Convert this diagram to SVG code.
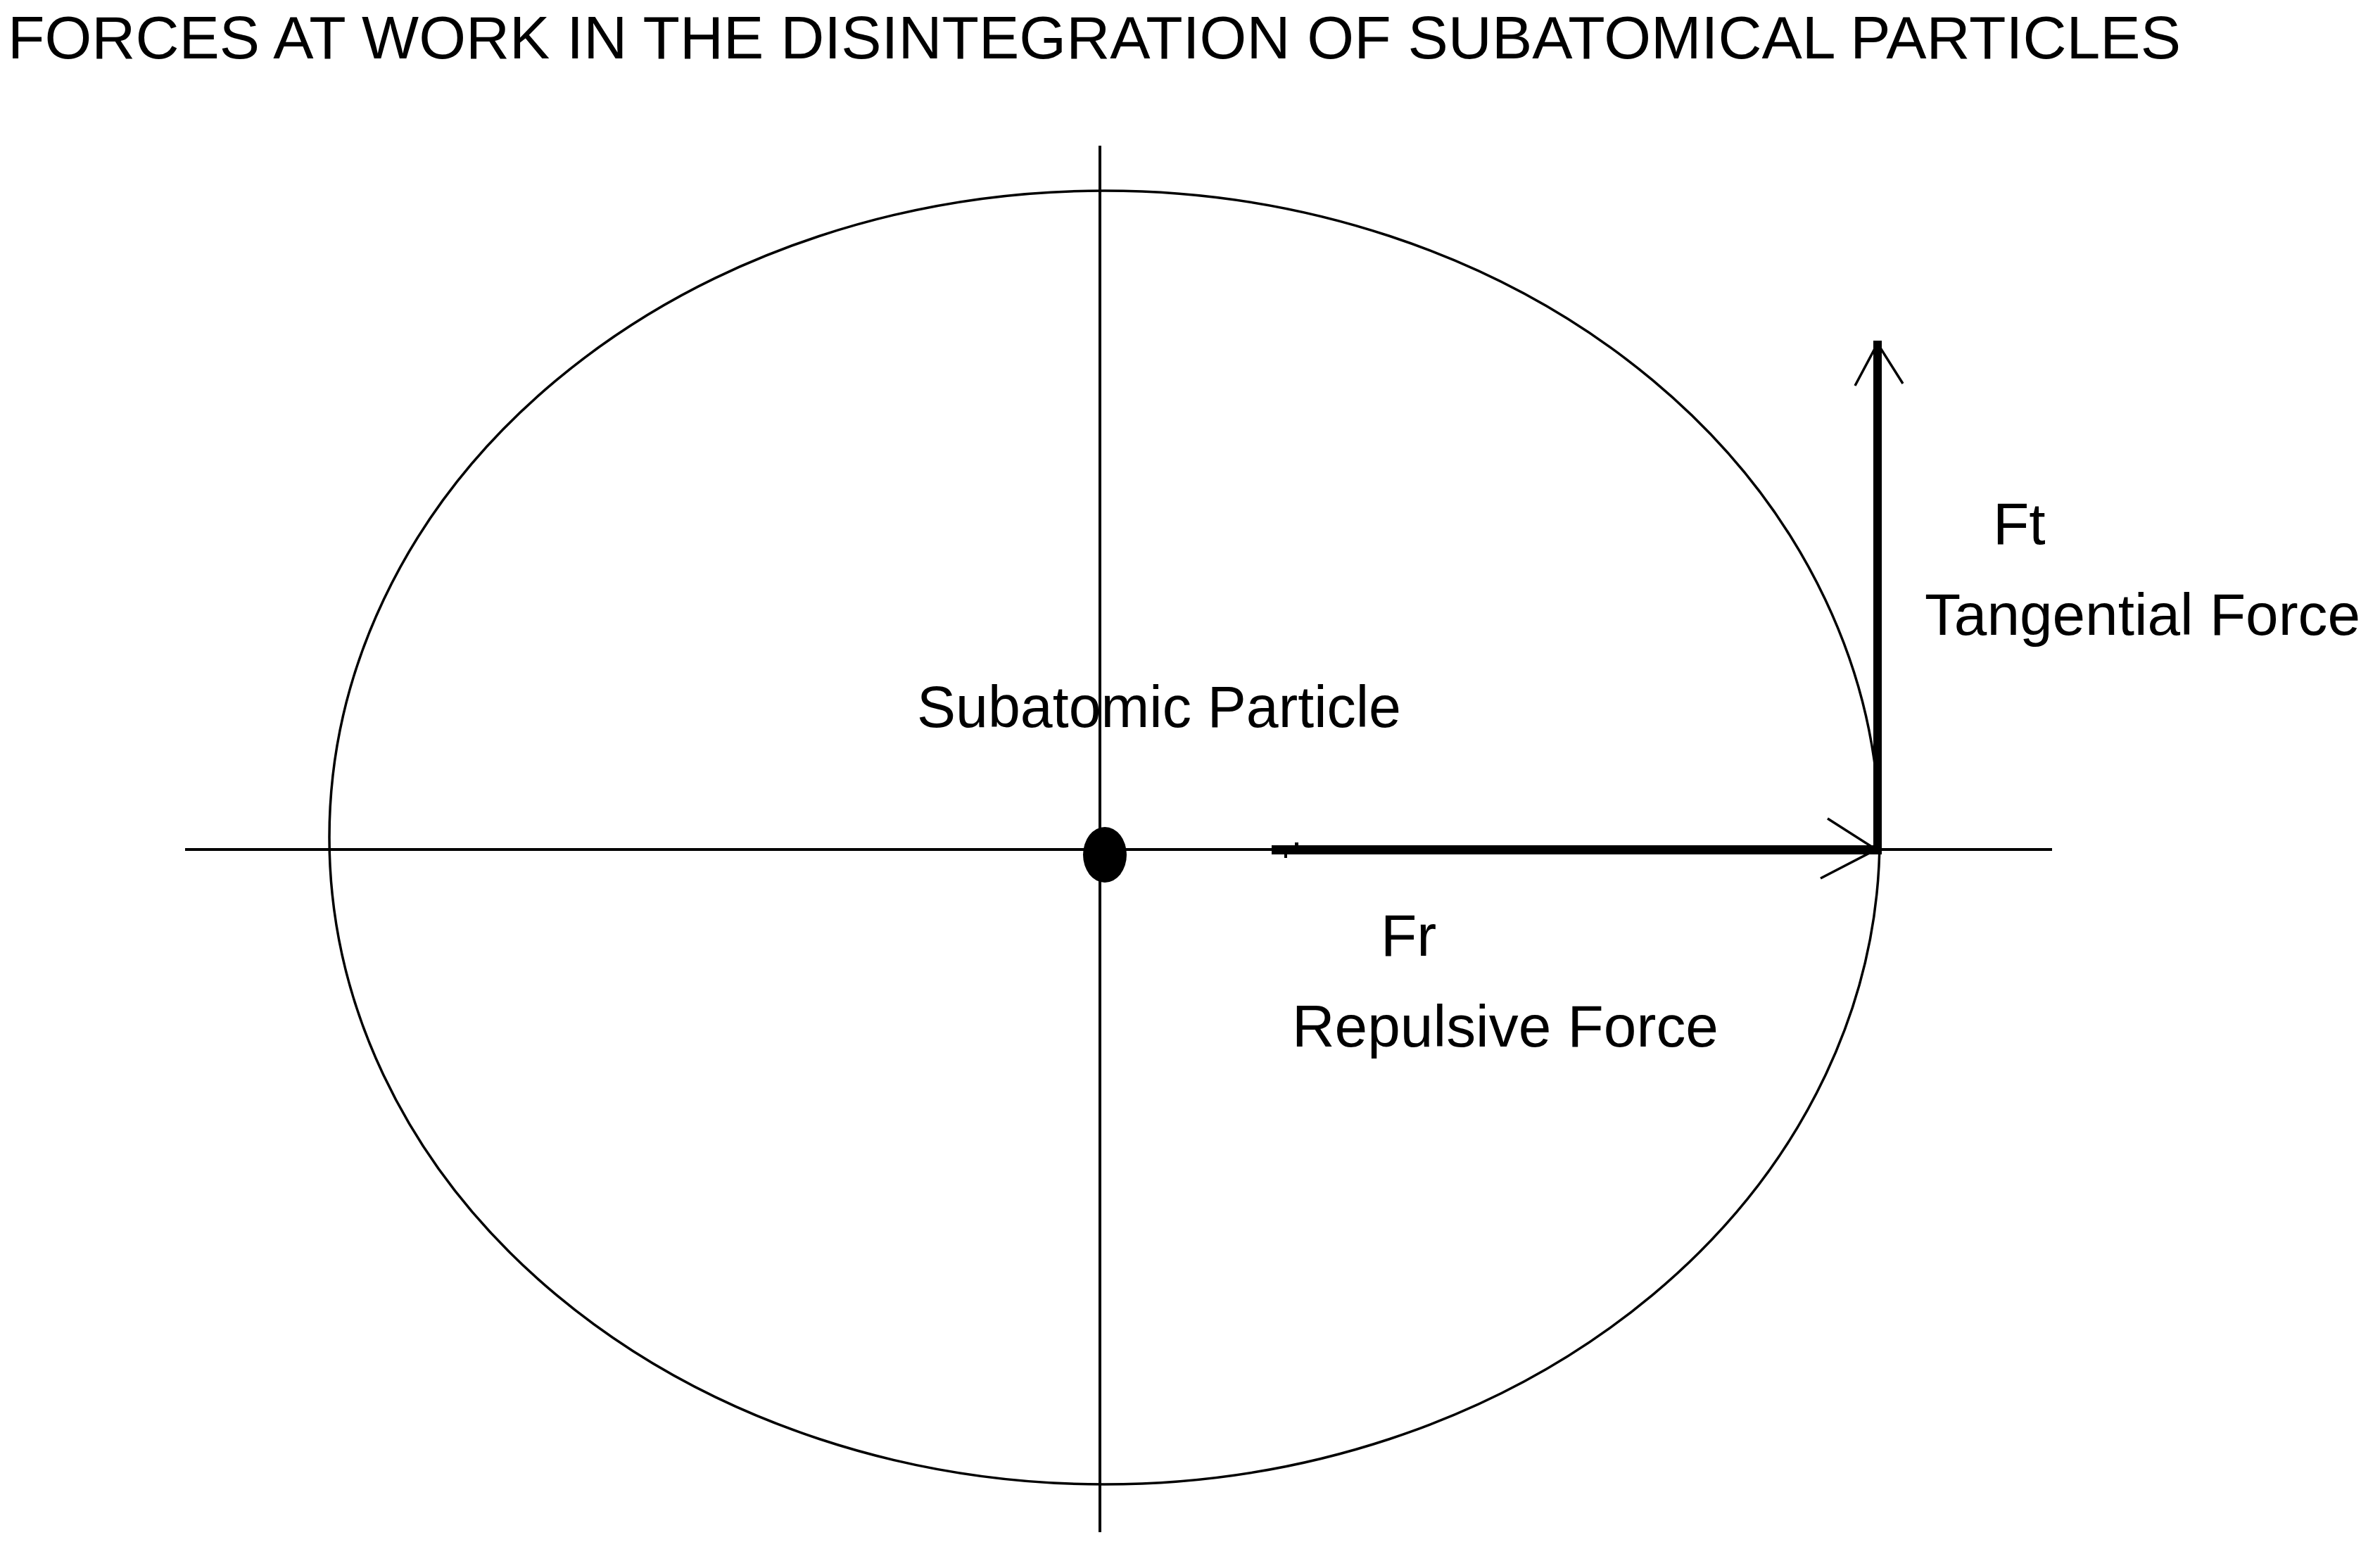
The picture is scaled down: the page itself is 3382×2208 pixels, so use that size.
<svg xmlns="http://www.w3.org/2000/svg" width="3382" height="2208" viewBox="0 0 3382 2208">
  <style>
    .lbl { font-family: "Liberation Sans", Arial, sans-serif; font-size: 84px; fill: #000; }
    .title { font-family: "Liberation Sans", Arial, sans-serif; font-size: 85px; fill: #000; }
    .axis { stroke: #000; stroke-width: 4; fill: none; }
    .orbit { stroke: #000; stroke-width: 3.5; fill: none; }
    .force { stroke: #000; fill: none; stroke-linecap: butt; }
    .head { stroke: #000; stroke-width: 3.5; fill: none; stroke-linecap: butt; stroke-linejoin: miter; }
  </style>
  <rect x="0" y="0" width="3382" height="2208" fill="#fff"/>

  <g id="title">
    <text class="title" x="11" y="83" textLength="3088" lengthAdjust="spacingAndGlyphs">FORCES AT WORK IN THE DISINTEGRATION OF SUBATOMICAL PARTICLES</text>
  </g>

  <g id="orbit">
    <ellipse class="orbit" cx="1569.5" cy="1190" rx="1101.5" ry="919"/>
  </g>

  <g id="axes">
    <line class="axis" x1="263" y1="1207" x2="2916" y2="1207"/>
    <line class="axis" x1="1563" y1="207" x2="1563" y2="2177"/>
  </g>

  <g id="particle">
    <ellipse cx="1570" cy="1214.5" rx="31" ry="39.5" fill="#000"/>
    <text class="lbl" x="1303" y="1033" textLength="688" lengthAdjust="spacingAndGlyphs">Subatomic Particle</text>
  </g>

  <g id="connectors">
    <g id="repulsive-arrow">
      <line class="force" x1="1807" y1="1207.5" x2="2674" y2="1207.5" stroke-width="13"/>
      <rect x="1840" y="1197" width="5" height="5" fill="#000"/>
      <rect x="1825" y="1213" width="4" height="6" fill="#000"/>
      <polyline class="head" points="2597,1163 2666,1207 2587,1248"/>
    </g>
    <g id="tangential-arrow">
      <line class="force" x1="2668" y1="484" x2="2668" y2="1213" stroke-width="12"/>
      <polyline class="head" points="2636,548 2668,488 2704,545"/>
    </g>
  </g>

  <g id="label-ft">
    <text class="lbl" x="2832" y="773">Ft</text>
    <text class="lbl" x="2735" y="902" textLength="619" lengthAdjust="spacingAndGlyphs">Tangential Force</text>
  </g>

  <g id="label-fr">
    <text class="lbl" x="1962" y="1358">Fr</text>
    <text class="lbl" x="1836" y="1487" textLength="606" lengthAdjust="spacingAndGlyphs">Repulsive Force</text>
  </g>
</svg>
